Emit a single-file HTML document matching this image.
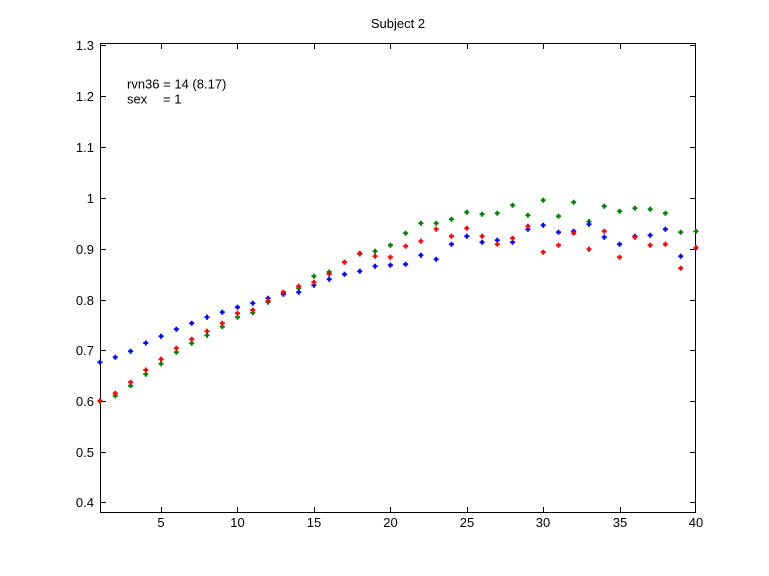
<!DOCTYPE html>
<html><head><meta charset="utf-8"><style>
html,body{margin:0;padding:0;background:#fff;}
svg{display:block;}
text{font-family:"Liberation Sans",Arial,sans-serif;font-size:13px;fill:#000;}
</style></head><body>
<svg width="769" height="576" viewBox="0 0 769 576" xmlns="http://www.w3.org/2000/svg">
<defs><path id="p" d="M-2.5 -1h5v2h-5zM-1 -2.5h2v5h-2z"/></defs>
<rect x="0" y="0" width="769" height="576" fill="#fff"/>
<text x="398" y="28" text-anchor="middle">Subject 2</text>
<g stroke="#000" stroke-width="1" fill="none" shape-rendering="crispEdges">
<rect x="100.5" y="43.5" width="595" height="469"/>
<!-- y ticks -->
<path d="M100 45.5h6M100 96.5h6M100 147.5h6M100 198.5h6M100 249.5h6M100 300.5h6M100 350.5h6M100 401.5h6M100 452.5h6M100 502.5h6"/>
<path d="M696 45.5h-6M696 96.5h-6M696 147.5h-6M696 198.5h-6M696 249.5h-6M696 300.5h-6M696 350.5h-6M696 401.5h-6M696 452.5h-6M696 502.5h-6"/>
<!-- x ticks -->
<path d="M161.5 513v-6M237.5 513v-6M314.5 513v-6M390.5 513v-6M467.5 513v-6M543.5 513v-6M620.5 513v-6"/>
<path d="M161.5 43v6M237.5 43v6M314.5 43v6M390.5 43v6M467.5 43v6M543.5 43v6M620.5 43v6"/>
</g>
<g text-anchor="end">
<text x="94" y="50">1.3</text>
<text x="94" y="101">1.2</text>
<text x="94" y="152">1.1</text>
<text x="94" y="203">1</text>
<text x="94" y="254">0.9</text>
<text x="94" y="305">0.8</text>
<text x="94" y="355">0.7</text>
<text x="94" y="406">0.6</text>
<text x="94" y="457">0.5</text>
<text x="94" y="507">0.4</text>
</g>
<g text-anchor="middle">
<text x="161" y="527">5</text>
<text x="237.5" y="527">10</text>
<text x="314" y="527">15</text>
<text x="390.5" y="527">20</text>
<text x="467" y="527">25</text>
<text x="543" y="527">30</text>
<text x="620" y="527">35</text>
<text x="696" y="527">40</text>
</g>
<text x="127" y="88.5">rvn36 = 14 (8.17)</text>
<text x="127" y="103.5" xml:space="preserve">sex   <tspan x="163">= 1</tspan></text>

<g fill="#008000">
<use href="#p" x="100.0" y="401.3"/><use href="#p" x="115.3" y="395.7"/><use href="#p" x="130.6" y="385.7"/><use href="#p" x="145.8" y="374.3"/><use href="#p" x="161.1" y="363.7"/><use href="#p" x="176.4" y="352.3"/><use href="#p" x="191.7" y="343.3"/><use href="#p" x="207.0" y="335.3"/><use href="#p" x="222.3" y="326.7"/><use href="#p" x="237.5" y="317.3"/>
<use href="#p" x="252.8" y="312.7"/><use href="#p" x="268.1" y="302.3"/><use href="#p" x="283.4" y="293"/><use href="#p" x="298.7" y="288.3"/><use href="#p" x="313.9" y="276.3"/><use href="#p" x="329.2" y="272"/><use href="#p" x="344.5" y="262.3"/><use href="#p" x="359.8" y="254"/><use href="#p" x="375.1" y="251.3"/><use href="#p" x="390.4" y="245.3"/>
<use href="#p" x="405.6" y="233.3"/><use href="#p" x="420.9" y="223.3"/><use href="#p" x="436.2" y="223.3"/><use href="#p" x="451.5" y="219.3"/><use href="#p" x="466.8" y="212.3"/><use href="#p" x="482.1" y="214.3"/><use href="#p" x="497.3" y="213.3"/><use href="#p" x="512.6" y="205.3"/><use href="#p" x="527.9" y="215.3"/><use href="#p" x="543.2" y="200.3"/>
<use href="#p" x="558.5" y="216.3"/><use href="#p" x="573.7" y="202.3"/><use href="#p" x="589.0" y="221.5"/><use href="#p" x="604.3" y="206.3"/><use href="#p" x="619.6" y="211.3"/><use href="#p" x="634.9" y="208.3"/><use href="#p" x="650.2" y="209.3"/><use href="#p" x="665.4" y="213.3"/><use href="#p" x="680.7" y="232.3"/><use href="#p" x="696.0" y="231.3"/>
</g>
<g fill="#0000ff">
<use href="#p" x="100.0" y="362.3"/><use href="#p" x="115.3" y="357.3"/><use href="#p" x="130.6" y="351.3"/><use href="#p" x="145.8" y="343"/><use href="#p" x="161.1" y="336.3"/><use href="#p" x="176.4" y="329.3"/><use href="#p" x="191.7" y="323.3"/><use href="#p" x="207.0" y="317.3"/><use href="#p" x="222.3" y="312.3"/><use href="#p" x="237.5" y="307.3"/>
<use href="#p" x="252.8" y="303.3"/><use href="#p" x="268.1" y="298.3"/><use href="#p" x="283.4" y="294.3"/><use href="#p" x="298.7" y="292.3"/><use href="#p" x="313.9" y="285.3"/><use href="#p" x="329.2" y="279.3"/><use href="#p" x="344.5" y="274.3"/><use href="#p" x="359.8" y="271.3"/><use href="#p" x="375.1" y="266.3"/><use href="#p" x="390.4" y="265.3"/>
<use href="#p" x="405.6" y="264.3"/><use href="#p" x="420.9" y="255.3"/><use href="#p" x="436.2" y="259.3"/><use href="#p" x="451.5" y="244.3"/><use href="#p" x="466.8" y="236.3"/><use href="#p" x="482.1" y="242.3"/><use href="#p" x="497.3" y="240.3"/><use href="#p" x="512.6" y="242.3"/><use href="#p" x="527.9" y="229.3"/><use href="#p" x="543.2" y="225.3"/>
<use href="#p" x="558.5" y="232.3"/><use href="#p" x="573.7" y="231.3"/><use href="#p" x="589.0" y="224.3"/><use href="#p" x="604.3" y="237.3"/><use href="#p" x="619.6" y="244.3"/><use href="#p" x="634.9" y="236.3"/><use href="#p" x="650.2" y="235.3"/><use href="#p" x="665.4" y="229.3"/><use href="#p" x="680.7" y="256.3"/><use href="#p" x="696.0" y="247.7"/>
</g>
<g fill="#ff0000">
<use href="#p" x="100.0" y="400.7"/><use href="#p" x="115.3" y="393.3"/><use href="#p" x="130.6" y="382.3"/><use href="#p" x="145.8" y="370"/><use href="#p" x="161.1" y="359.3"/><use href="#p" x="176.4" y="348.3"/><use href="#p" x="191.7" y="339.3"/><use href="#p" x="207.0" y="331.3"/><use href="#p" x="222.3" y="323.3"/><use href="#p" x="237.5" y="313.3"/>
<use href="#p" x="252.8" y="310"/><use href="#p" x="268.1" y="301"/><use href="#p" x="283.4" y="292.3"/><use href="#p" x="298.7" y="286.3"/><use href="#p" x="313.9" y="282.3"/><use href="#p" x="329.2" y="274"/><use href="#p" x="344.5" y="262.3"/><use href="#p" x="359.8" y="253.3"/><use href="#p" x="375.1" y="256.3"/><use href="#p" x="390.4" y="257.3"/>
<use href="#p" x="405.6" y="246.3"/><use href="#p" x="420.9" y="241.3"/><use href="#p" x="436.2" y="229.3"/><use href="#p" x="451.5" y="236.3"/><use href="#p" x="466.8" y="228.3"/><use href="#p" x="482.1" y="236.3"/><use href="#p" x="497.3" y="244.3"/><use href="#p" x="512.6" y="238.3"/><use href="#p" x="527.9" y="226.3"/><use href="#p" x="543.2" y="252.3"/>
<use href="#p" x="558.5" y="245.3"/><use href="#p" x="573.7" y="233.3"/><use href="#p" x="589.0" y="249.3"/><use href="#p" x="604.3" y="231.3"/><use href="#p" x="619.6" y="257.3"/><use href="#p" x="634.9" y="237.3"/><use href="#p" x="650.2" y="245.3"/><use href="#p" x="665.4" y="244.3"/><use href="#p" x="680.7" y="268.3"/><use href="#p" x="696.0" y="247.7"/>
</g>
</svg>
</body></html>
